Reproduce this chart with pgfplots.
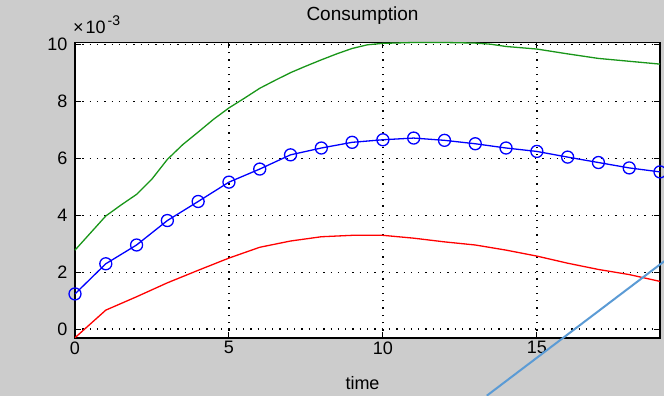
\documentclass[border=0pt]{standalone}
\usepackage{pgfplots}
\pgfplotsset{compat=1.18}
\usepackage{fontspec}
\setmainfont{Liberation Sans}
\definecolor{figgray}{RGB}{204,204,204}
\definecolor{mblue}{RGB}{0,0,255}
\definecolor{mgreen}{RGB}{25,150,25}
\definecolor{mred}{RGB}{255,0,0}
\definecolor{noteblue}{RGB}{91,155,213}

\begin{document}
\begin{tikzpicture}[font=\fontsize{18bp}{21bp}\selectfont]
\fill[figgray] (0,0) rectangle (664bp,396bp);
\useasboundingbox (0,0) rectangle (664bp,396bp);
\begin{axis}[
  at={(75bp,58bp)}, anchor=south west,
  scale only axis, width=585bp, height=295.5bp,
  axis background/.style={fill=white},
  xmin=0, xmax=19, ymin=-0.00031, ymax=0.01008,
  xtick={0,5,10,15},
  ytick={0,0.002,0.004,0.006,0.008,0.010},
  scaled y ticks=base 10:3,
  ytick scale label code/.code={},
  /pgf/number format/assume math mode=true,
  tick pos=both, tick align=inside,
  major tick length=6bp,
  tick style={black, line width=1bp},
  axis line style={black, line width=1.2bp},
  grid=major,
  major grid style={black, line width=1.4bp, dash pattern=on 1.3bp off 6bp},
  yticklabel style={xshift=-4bp},
  title={Consumption},
  title style={at={(rel axis cs:0.5,1)}, anchor=base, yshift=16bp, xshift=-5bp,
    font=\fontsize{19bp}{22bp}\selectfont},
  xlabel={time},
  xlabel style={at={(rel axis cs:0.5,0)}, anchor=base, yshift=-51bp, xshift=-5bp},
  clip=false,
]
% upper bound
\addplot[mgreen, line width=1.3bp] coordinates {
  (0,0.00278) (0.5,0.00338) (1,0.00398) (1.5,0.00437) (2,0.00474)
  (2.5,0.00528) (3,0.00597) (3.5,0.00649) (4,0.00693) (4.5,0.00738)
  (5,0.00778) (5.5,0.00812) (6,0.00847) (6.5,0.00875) (7,0.00902)
  (7.5,0.00925) (8,0.00947) (8.5,0.00968) (9,0.00987) (9.5,0.01000)
  (10,0.01005) (11,0.01008) (12,0.01008) (13,0.01006) (13.5,0.01002)
  (14,0.00994) (15,0.00985) (16,0.00968) (17,0.00952) (18,0.00942)
  (19,0.00932)};
% mean consumption
\addplot[mblue, line width=1.3bp, mark=o, mark size=6bp,
  mark options={line width=1.3bp}] coordinates {
  (0,0.00124) (1,0.00230) (2,0.00296) (3,0.00382) (4,0.00449)
  (5,0.00517) (6,0.00563) (7,0.00613) (8,0.00637) (9,0.00657)
  (10,0.00666) (11,0.00672) (12,0.00664) (13,0.00652) (14,0.00637)
  (15,0.00625) (16,0.00605) (17,0.00586) (18,0.00567) (19,0.00553)};
% lower bound
\addplot[mred, line width=1.3bp] coordinates {
  (0,-0.00030) (1,0.00067) (2,0.00114) (3,0.00163) (4,0.00207)
  (5,0.00250) (6,0.00288) (7,0.00310) (8,0.00325) (9,0.00330)
  (10,0.00330) (11,0.00320) (12,0.00307) (13,0.00296) (14,0.00278)
  (15,0.00257) (16,0.00232) (17,0.00210) (18,0.00192) (19,0.00168)};
% pointer line
\addplot[noteblue, line width=2bp, forget plot] coordinates {
  (13.375,-0.002338) (19.14,0.00239)};
% exponent of the y axis
\node[anchor=base west, inner sep=0pt, xshift=-2bp, yshift=9bp,
  font=\fontsize{18bp}{21bp}\selectfont]
  at (rel axis cs:0,1) {×\kern2bp 10\kern2bp\raisebox{8bp}{\fontsize{14bp}{16bp}\selectfont -3}};
\end{axis}
\end{tikzpicture}
\end{document}
